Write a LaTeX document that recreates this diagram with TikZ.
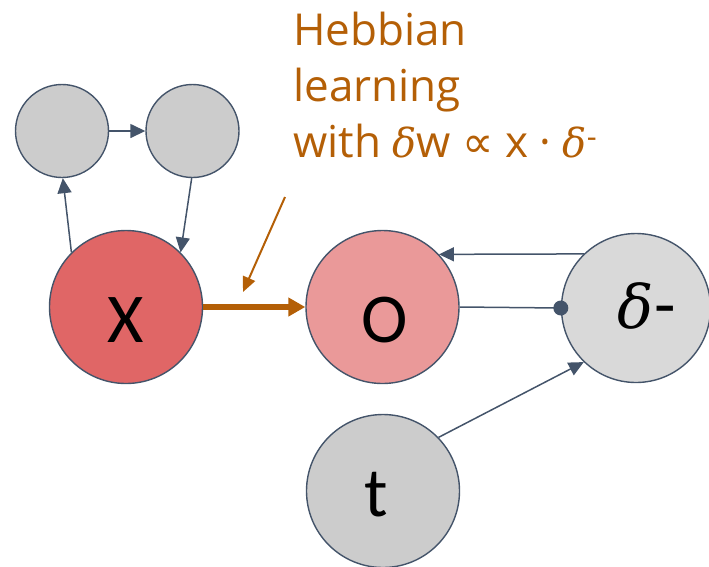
\documentclass[tikz,border=0pt]{standalone}
\usepackage{fontspec}
\setmainfont{Carlito}
\newfontfamily\hebfont{Open Sans}
\newfontfamily\grkfont{DejaVu Serif}
\newfontfamily\symfont{DejaVu Sans}
\usetikzlibrary{arrows.meta}

\definecolor{edgec}{HTML}{44546A}
\definecolor{hebc}{HTML}{B45F06}
\definecolor{inred}{HTML}{E06666}
\definecolor{outred}{HTML}{EA9999}
\definecolor{hidgray}{HTML}{CCCCCC}
\definecolor{errgray}{HTML}{D9D9D9}

% italic delta used for the error signal, scaled down a little
\newcommand{\errdelta}[1]{{\grkfont\itshape\fontsize{#1}{#1}\selectfont δ}}

\begin{document}
\begin{tikzpicture}[x=1pt,y=-1pt,
  unit/.style={circle,draw=edgec,line width=1.4pt,inner sep=0pt,minimum size=#1},
  wire/.style={draw=edgec,line width=1.5pt,-{Triangle[length=15pt,width=14pt]}},
  lbl/.style={anchor=base,inner sep=0pt,font=\fontsize{70}{84}\selectfont},
  heb/.style={anchor=base west,inner sep=0pt,text=hebc,font=\hebfont\fontsize{44}{56}\selectfont}]
  \useasboundingbox (0,0) rectangle (709,566);

  % units
  \node[unit=93pt,fill=hidgray] (h1) at (62,131) {};
  \node[unit=93pt,fill=hidgray] (h2) at (192.5,131) {};
  \node[unit=153pt,fill=inred] (X) at (126,307) {};
  \node[unit=153pt,fill=outred] (O) at (382.5,307) {};
  \node[unit=149pt,fill=errgray] (d) at (636,308) {};
  \node[unit=153pt,fill=hidgray] (t) at (383,491) {};

  % unit labels
  \node[lbl] (Xl) at (126,342) {X};
  \node[lbl] (Ol) at (385,342) {O};
  \node[lbl] (tl) at (376,516) {t};
  \node[lbl] (dl) at (647,328) {\errdelta{60}\kern1pt-};

  % connections
  \draw[wire] (X.135) -- (h1.-89);
  \draw[wire] (h1.east) -- (h2.west);
  \draw[wire] (h2.-91) -- (X.45);
  \draw[wire] (d.134.5) -- (O.43.7);
  \draw[wire] (t.44) -- (d.226);
  \draw[edgec,line width=1.5pt] (O.east) -- (d.west);
  \fill[edgec] (d.west) circle[radius=7.5];

  % Hebbian weight update
  \draw[hebc,line width=6pt,-{Triangle[length=17pt,width=18pt]}] (X.east) -- (O.west);
  \coordinate (pa) at (285,197);
  \coordinate (pb) at (243,292);
  \draw[hebc,line width=2pt,-{Triangle[length=15pt,width=13pt]}] (pa) -- (pb);

  \node[heb] (hebA) at (293,45) {Hebbian};
  \node[heb] (hebB) at (293,101) {learning};
  \node[heb] (hebC) at (293,157) {with \errdelta{40}w {\symfont ∝} x · \errdelta{40}\textsuperscript{-}};
\end{tikzpicture}
\end{document}
